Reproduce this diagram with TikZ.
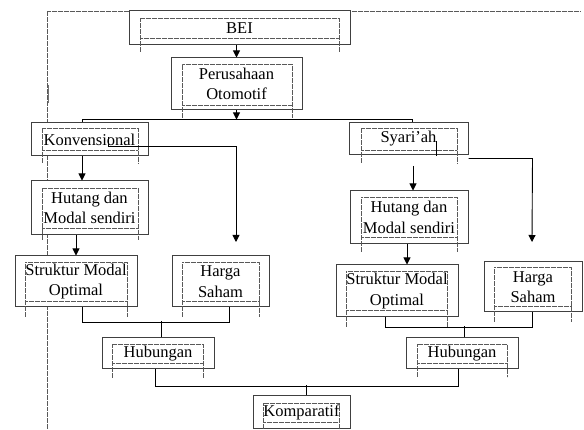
\documentclass[tikz,border=0pt]{standalone}
\usepackage{fontspec}
\setmainfont{Liberation Serif}
\usetikzlibrary{arrows.meta}
\begin{document}
\begin{tikzpicture}[x=1pt,y=-1pt,
  box/.style={draw=black!75, line width=1pt, fill=white, inner sep=0pt, align=center,
    font=\fontsize{16.5}{20.5}\selectfont},
  tf/.style={draw=black!65, line width=0.5pt, dash pattern=on 0.5pt off 0.7pt},
  conn/.style={line width=0.9pt, black},
  arr/.style={conn, -{Triangle[length=7pt,width=7pt]}}]
\useasboundingbox (0,0) rectangle (584,430);
% page frame remnants
\draw[tf] (47,430) -- (47,11) -- (580,11);
\draw[line width=1.5pt, black!55] (48.5,85) -- (48.5,103);
% boxes
\node[box, minimum width=221pt, minimum height=34pt] (bei) at (239.5,28) {BEI};
\node[box, minimum width=131pt, minimum height=52pt] (per) at (236.5,84) {Perusahaan\\Otomotif};
\node[box, minimum width=117pt, minimum height=33pt] (konv) at (89.5,139.5) {Konvensional};
\node[box, minimum width=117pt, minimum height=54pt] (hut1) at (89.5,208) {Hutang dan\\Modal sendiri};
\node[box, minimum width=122pt, minimum height=51pt] (str1) at (76,281.5) {Struktur Modal\\Optimal};
\node[box, minimum width=97pt, minimum height=51pt] (harga1) at (220.5,281.5) {Harga\\Saham};
\node[box, minimum width=112pt, minimum height=31pt] (hub1) at (158,353.5) {Hubungan};
\node[box, minimum width=97pt, minimum height=32pt] (komp) at (301.5,412) {Komparatif};
\node[box, minimum width=119pt, minimum height=32pt] (syar) at (408.5,139) {Syari’ah};
\node[box, minimum width=118pt, minimum height=53pt] (hut2) at (409,217.5) {Hutang dan\\Modal sendiri};
\node[box, minimum width=122pt, minimum height=52pt] (str2) at (397,291) {Struktur Modal\\Optimal};
\node[box, minimum width=98pt, minimum height=50pt] (harga2) at (533,287) {Harga\\Saham};
\node[box, minimum width=112pt, minimum height=31pt] (hub2) at (462,353.5) {Hubungan};
% inner text frames
\draw[tf] (140,52) -- (140,18) -- (339,18) -- (339,52) (140,38) -- (339,38);
\draw[tf] (182,118) -- (182,64) -- (292,64) -- (292,118) (182,105) -- (292,105);
\draw[tf] (42,163) -- (42,128) -- (138,128) -- (138,163) (42,150) -- (138,150);
\draw[tf] (42,240) -- (42,188) -- (138,188) -- (138,240) (42,228) -- (138,228);
\draw[tf] (25,317) -- (25,262) -- (127,262) -- (127,317) (25,301) -- (127,301);
\draw[tf] (182,317) -- (182,262) -- (259,262) -- (259,317) (182,301) -- (259,301);
\draw[tf] (112,378) -- (112,344) -- (203,344) -- (203,378) (112,363) -- (203,363);
\draw[tf] (263,430) -- (263,403) -- (339,403) -- (339,430) (263,422) -- (339,422);
\draw[tf] (361,163) -- (361,128) -- (457,128) -- (457,163) (361,150) -- (457,150);
\draw[tf] (361,252) -- (361,197) -- (457,197) -- (457,252) (361,237) -- (457,237);
\draw[tf] (346,327) -- (346,271) -- (447,271) -- (447,327) (346,310) -- (447,310);
\draw[tf] (494,322) -- (494,267) -- (571,267) -- (571,322) (494,306) -- (571,306);
\draw[tf] (417,377) -- (417,344) -- (507,344) -- (507,377) (417,363) -- (507,363);
% connectors
\coordinate (k2h) at (236,242);
\coordinate (s2g) at (532,242);
\coordinate (s2h) at (413,166);
\draw[arr] (bei.south -| per.north) -- (per.north);
\draw[arr] (per.south) -- ++(0,9);
\draw[conn] ([xshift=-7.5pt]konv.north) -- ++(0,-3) -| ([xshift=3.5pt]syar.north);
\draw[arr] ([xshift=-7.5pt]konv.south) -- ([xshift=-7.5pt]hut1.north);
\draw[arr] ([xshift=18.5pt,yshift=2.5pt]konv.center) -- ++(0,9) -| (k2h);
\draw[arr] (str1.north |- hut1.south) -- (str1.north);
\draw[conn] ([xshift=6pt]str1.south) -- ++(0,15) -| ([xshift=8.5pt]harga1.south);
\draw[conn] ([xshift=3pt]hub1.north) -- ++(0,-16);
\draw[arr] (s2h) -- (s2h |- hut2.north);
\draw[conn] ([xshift=27.5pt,yshift=-2pt]syar.center) -- ++(0,15);
\draw[arr] ([yshift=-3pt]syar.south east) -- ++(64,0) -- (s2g);
\draw[arr] ([xshift=-2pt]hut2.south) -- ([xshift=10pt]str2.north);
\draw[conn] ([xshift=-12pt]str2.south) -- ++(0,10) -| ([xshift=-1pt]harga2.south);
\draw[conn] ([xshift=2pt]hub2.north) -- ++(0,-11);
\draw[conn] ([xshift=-3pt]hub1.south) -- ++(0,17) -| ([xshift=-4pt]hub2.south);
\draw[conn] ([xshift=4.5pt]komp.north) -- ++(0,-10);
\end{tikzpicture}
\end{document}
